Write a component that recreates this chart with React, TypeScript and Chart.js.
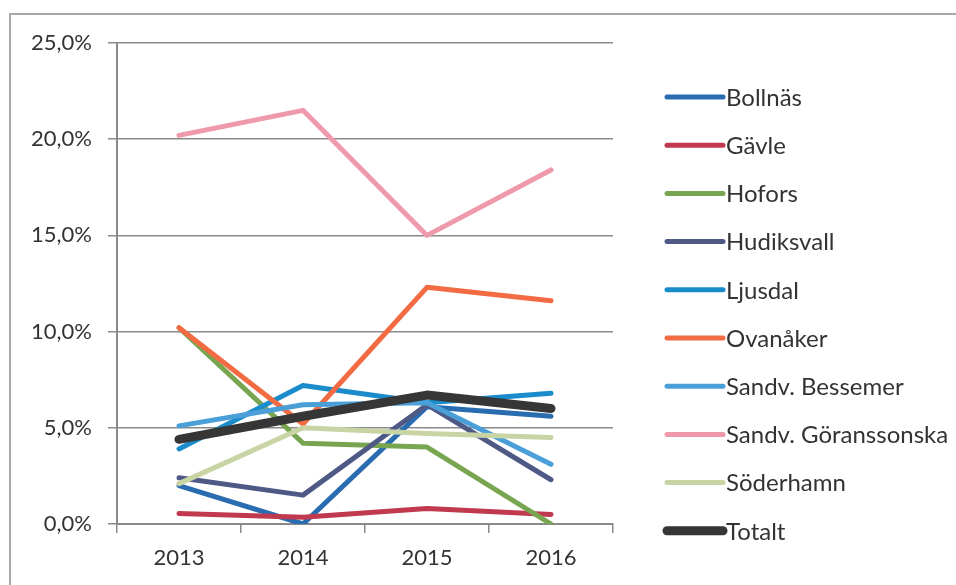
import React, { useEffect, useRef } from "react";
import { Chart, registerables } from "chart.js";

Chart.register(...registerables);

const years = ["2013", "2014", "2015", "2016"];
const seriesNames = [
  "Bollnäs",
  "Gävle",
  "Hofors",
  "Hudiksvall",
  "Ljusdal",
  "Ovanåker",
  "Sandv. Bessemer",
  "Sandv. Göranssonska",
  "Söderhamn",
  "Totalt",
];
const bollnas = [2.0, 0.0, 6.1, 5.6];
const gavle = [0.55, 0.35, 0.8, 0.5];
const hofors = [10.2, 4.2, 4.0, 0.0];
const hudiksvall = [2.4, 1.5, 6.2, 2.3];
const ljusdal = [3.9, 7.2, 6.3, 6.8];
const ovanaker = [10.2, 5.2, 12.3, 11.6];
const bessemer = [5.1, 6.2, 6.3, 3.1];
const goranssonska = [20.2, 21.5, 15.0, 18.4];
const soderhamn = [2.1, 5.0, 4.7, 4.5];
const totalt = [4.4, 5.6, 6.7, 6.0];
const seriesValues = [bollnas, gavle, hofors, hudiksvall, ljusdal, ovanaker, bessemer, goranssonska, soderhamn, totalt];
const seriesColors = [
  "#2a6cb0",
  "#c0394e",
  "#78a550",
  "#4e5a85",
  "#1a8ccb",
  "#f26b43",
  "#4a9fd8",
  "#ee9aaa",
  "#c8d4a4",
  "#363636",
];
const yTicks = [0, 5, 10, 15, 20, 25];

const FONT = "Lato, 'Open Sans', sans-serif";
const TEXT = "#333333";
const GRID = "#8a8a8a";

const legendPlugin = {
  id: "customLegend",
  afterDraw(chart: any) {
    const { ctx, chartArea } = chart;
    const x0 = chartArea.right + 54;
    const x1 = chartArea.right + 110;
    const tx = chartArea.right + 113;
    ctx.save();
    ctx.font = `24px ${FONT}`;
    ctx.textBaseline = "middle";
    ctx.textAlign = "left";
    chart.data.datasets.forEach((ds: any, i: number) => {
      const y = chartArea.top + 54 + i * 48.2;
      ctx.beginPath();
      ctx.strokeStyle = ds.borderColor;
      ctx.lineWidth = ds.label === "Totalt" ? 9 : 5;
      ctx.lineCap = "round";
      ctx.moveTo(x0, y);
      ctx.lineTo(x1, y);
      ctx.stroke();
      ctx.fillStyle = TEXT;
      ctx.fillText(ds.label, tx, y + 1);
    });
    ctx.restore();
  },
};

export default function App() {
  const ref = useRef<HTMLCanvasElement>(null);
  useEffect(() => {
    if (!ref.current) return;
    const chart = new Chart(ref.current, {
      type: "line",
      data: {
        labels: years,
        datasets: seriesNames.map((name, i) => ({
          label: name,
          data: seriesValues[i],
          borderColor: seriesColors[i],
          backgroundColor: seriesColors[i],
          borderWidth: name === "Totalt" ? 9 : 5,
          pointRadius: 0,
          tension: 0,
          borderCapStyle: "round",
          borderJoinStyle: "round",
          order: seriesNames.length - 1 - i,
        })),
      },
      options: {
        animation: false,
        responsive: false,
        maintainAspectRatio: false,
        layout: { padding: { left: 0, top: 43, right: 343, bottom: 0 } },
        plugins: { legend: { display: false }, tooltip: { enabled: false } },
        scales: {
          x: {
            type: "category",
            offset: true,
            grid: {
              display: true,
              offset: true,
              drawOnChartArea: false,
              drawTicks: true,
              tickLength: 9,
              color: GRID,
              lineWidth: 1.5,
            },
            border: { display: true, color: GRID, width: 2 },
            ticks: { color: TEXT, font: { family: FONT, size: 22 }, padding: 12 },
            afterFit(scale: any) {
              scale.height = 61;
            },
          },
          y: {
            min: 0,
            max: 25,
            afterBuildTicks(scale: any) {
              scale.ticks = yTicks.map((v) => ({ value: v }));
            },
            grid: { color: GRID, lineWidth: 1.5, tickLength: 9, drawTicks: true },
            border: { display: true, color: GRID, width: 2 },
            ticks: {
              color: TEXT,
              font: { family: FONT, size: 22 },
              padding: 16,
              callback: (v: any) => `${Number(v).toFixed(1).replace(".", ",")}%`,
            },
            afterFit(scale: any) {
              scale.width = 117;
            },
          },
        },
      },
      plugins: [legendPlugin],
    });
    return () => chart.destroy();
  }, []);

  return (
    <div style={{ position: "fixed", left: 0, top: 0, width: 956, height: 585, overflow: "hidden", background: "#fff" }}>
      <div
        style={{
          position: "absolute",
          left: 9,
          top: 13,
          width: 1200,
          height: 1200,
          border: "2px solid #a8a8a8",
          boxSizing: "border-box",
        }}
      />
      <canvas ref={ref} width={956} height={585} style={{ position: "absolute", left: 0, top: 0 }} />
    </div>
  );
}
